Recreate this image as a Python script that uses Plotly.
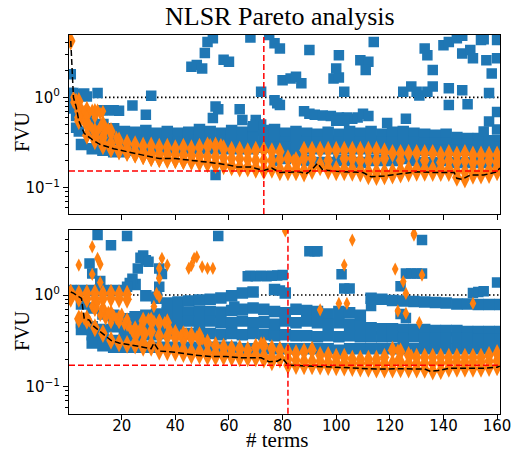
import plotly.graph_objects as go

# ---------------------------------------------------------------------------
# Data: FVU of candidate models against number of terms
# ---------------------------------------------------------------------------
X4 = list(range(1, 162, 4))   # term counts sampled for the square-marker fronts
X3 = list(range(1, 161, 3))   # term counts sampled for the diamond-marker fronts

# ---- upper panel ----
TOP_BLUE_ROWS = [
    [1.1, 1.05, 0.55, 0.5, 0.45, 0.42, 0.41, 0.43, 0.40, 0.42, 0.40, 0.41, 0.44, 0.42, 0.40, 0.43, 0.41,
     0.45, 0.43, 0.44, 0.40, 0.42, 0.40, 0.39, 0.41, 0.39, 0.42, 0.40, 0.42, 0.39, 0.41, 0.42, 0.40,
     0.39, 0.38, 0.39, 0.36, 0.35, 0.35, 0.33, 0.33],
    [0.95, 0.62, 0.42, 0.37, 0.34, 0.33, 0.33, 0.34, 0.33, 0.33, 0.32, 0.33, 0.34, 0.33, 0.33, 0.34, 0.33,
     0.35, 0.34, 0.33, 0.32, 0.33, 0.32, 0.32, 0.33, 0.32, 0.33, 0.32, 0.33, 0.32, 0.32, 0.33, 0.32,
     0.31, 0.31, 0.31, 0.30, 0.30, 0.29, 0.29, 0.28],
    [0.85, 0.30, 0.27, 0.26, 0.25, 0.25, 0.26, 0.27, 0.27, 0.27, 0.27, 0.27, 0.27, 0.27, 0.27, 0.27, 0.27,
     0.27, 0.28, 0.28, 0.28, 0.27, 0.27, 0.27, 0.27, 0.27, 0.27, 0.27, 0.27, 0.27, 0.27, 0.27, 0.27,
     0.26, 0.26, 0.26, 0.26, 0.26, 0.25, 0.25, 0.25],
    [None] * 19 + [0.20, 0.21, 0.22, 0.20, 0.19, 0.19, 0.20, 0.20, 0.19, 0.20, 0.20, 0.20, 0.21, 0.20,
                   0.19, 0.19, 0.20, 0.19, 0.19, 0.19, 0.19, 0.19],
]
TOP_BLUE_X = [1, 1, 2, 2, 3, 4, 6, 7, 11, 13, 15, 17, 19, 24, 29, 31, 2, 3, 3, 4,
              46, 48, 50, 51, 52, 54, 58, 60, 68, 72, 54, 55, 56, 64, 65, 70, 75, 77, 79, 77,
              78, 79, 80, 83, 85, 87, 90, 99, 101, 100, 101, 103, 109, 112, 111, 114, 119, 126, 125, 128,
              130, 131, 134, 136, 136, 133, 134, 140, 142, 145, 147, 147, 150, 151, 154, 155, 160, 156, 160, 158,
              157, 147, 142, 142, 149, 160, 157, 160, 155, 70, 88, 90, 92, 95, 98, 101, 104, 106, 108, 110,
              112, 100, 103, 55, 72, 69]
TOP_BLUE_Y = [1.8, 1.0, 0.92, 1.12, 1.05, 1.08, 1.1, 1.02, 1.12, 0.72, 0.72, 0.72, 0.71, 0.81, 0.64, 1.04,
              0.75, 0.62, 0.46, 0.42,
              2.18, 2.28, 2.09, 3.1, 4.1, 4.5, 2.6, 2.48, 4.6, 1.15, 0.59, 0.79, 0.74, 0.74, 0.56, 0.56, 4.9,
              3.96, 3.48, 0.93, 0.86, 0.82, 1.55, 1.62, 1.69, 1.43, 3.34, 1.62, 1.66, 2.09, 2.93, 1.15, 2.58,
              2.48, 2.0, 4.1, 0.52, 0.58, 1.15, 1.32, 1.15, 1.05, 1.15, 1.32, 2.0, 3.48, 2.93, 3.78, 4.1, 4.5,
              4.8, 3.06, 3.34, 2.7, 4.3, 4.4, 4.3, 2.58, 2.7, 1.84, 1.12, 1.2, 1.26, 0.82, 0.84, 0.69, 0.54,
              0.44, 0.42, 0.5, 0.7, 0.66, 0.64, 0.63, 0.62, 0.6, 0.6, 0.58, 0.6, 0.66, 0.62, 0.55, 0.55,
              0.138, 0.5, 0.48]

TOP_ORANGE_ROWS = [
    [None, 0.9, 0.72, 0.68, 0.5, 0.42, 0.33, 0.31, 0.3, 0.29,
     0.29, 0.28, 0.28, 0.27, 0.28, 0.27, 0.28, 0.29, 0.29, 0.27,
     0.26, 0.26, 0.25, 0.26, 0.26, 0.25, 0.25, None, None, 0.26,
     0.26, 0.26, 0.26, 0.26, 0.26, 0.26, 0.26, 0.26, 0.26, 0.25,
     0.24, 0.24, 0.24, 0.24, 0.24, 0.24, 0.23, 0.24, 0.23, 0.24,
     0.23, 0.23, 0.23, 0.23],
    [None, 0.6, 0.5, 0.42, 0.36, 0.31, 0.28, 0.27, 0.25, 0.245,
     0.24, 0.235, 0.235, 0.23, 0.23, 0.225, 0.225, 0.22, 0.22, 0.215,
     0.21, 0.21, 0.205, 0.2, 0.2, 0.2, 0.205, 0.21, 0.2, 0.21,
     0.21, None, 0.2, None, 0.21, 0.21, 0.2, 0.2, 0.2, 0.21,
     None, 0.2, None, None, 0.2, None, 0.19, 0.2, 0.19, 0.2,
     0.19, 0.19, 0.2, 0.19],
    [None, 0.7, 0.5, 0.36, 0.31, 0.28, 0.26, 0.25, 0.235, 0.225,
     0.215, 0.21, 0.21, 0.205, 0.2, 0.2, 0.195, 0.19, 0.185, 0.18,
     0.175, 0.17, 0.17, 0.165, 0.16, 0.165, 0.16, 0.16, 0.16, 0.155,
     0.165, 0.18, 0.165, 0.16, 0.16, 0.16, 0.155, 0.15, 0.15, 0.15,
     0.15, 0.155, 0.16, 0.16, 0.16, 0.16, 0.16, 0.16, 0.15, 0.15,
     0.15, 0.15, 0.155, 0.165],
    [4.2, 0.55, 0.38, 0.33, 0.29, 0.27, 0.255, 0.245, 0.235, 0.225,
     0.215, 0.21, 0.205, 0.205, 0.2, 0.195, 0.19, 0.185, 0.18, 0.175,
     0.17, 0.165, 0.165, 0.16, 0.155, 0.16, 0.15, 0.15, 0.15, 0.145,
     0.155, 0.17, 0.155, 0.15, 0.15, 0.148, 0.145, 0.135, 0.133, 0.135,
     0.138, 0.142, 0.145, 0.148, 0.148, 0.147, 0.147, 0.147, 0.13, 0.125,
     0.137, 0.138, 0.14, 0.15],
]
TOP_ORANGE_X = [2, 2, 3, 3, 5, 5, 6, 8, 9, 11, 12, 13, 6, 8, 9, 11, 12, 14, 15, 16, 18, 10, 7, 11,
                53, 55, 57, 84, 86]
TOP_ORANGE_Y = [1.0, 0.88, 0.95, 0.8, 0.75, 0.62, 0.7, 0.68, 0.72, 0.7, 0.66, 0.7, 0.55, 0.5, 0.45,
                0.42, 0.47, 0.42, 0.45, 0.38, 0.36, 0.6, 0.61, 0.72, 0.3, 0.3, 0.3, 0.2, 0.19]

TOP_BEST_X = [1, 2, 3, 4, 6, 9, 12, 17, 22, 28, 34, 40, 47, 53, 59, 63, 68, 72, 73, 76,
              79, 86, 89, 91, 93, 95, 100, 110, 113, 118, 124, 130, 137, 144, 145, 147, 150, 155, 160, 161]
TOP_BEST_Y = [4.2, 1.0, 0.79, 0.55, 0.40, 0.34, 0.30, 0.27, 0.25, 0.23, 0.21, 0.21, 0.20, 0.19, 0.18,
              0.17, 0.17, 0.157, 0.155, 0.165, 0.147, 0.15, 0.144, 0.16, 0.186, 0.157, 0.152, 0.147,
              0.132, 0.135, 0.142, 0.15, 0.147, 0.147, 0.127, 0.124, 0.138, 0.138, 0.15, 0.165]
TOP_PICK_TERMS, TOP_PICK_FVU = 73, 0.153

# ---- lower panel ----
BOT_BLUE_ROWS = [
    [1.12, 1.12, 1.12, 1.12, 1.12, 1.12, 1.3, 0.98, 0.92, 0.82,
     0.84, 0.86, 0.88, 0.9, 0.93, 0.98, 1.05, 1.08, None, 1.15,
     1.05, None, None, None, None, None, None, None, 0.92, 0.9,
     0.87, 0.86, 0.85, 0.84, 0.83, 0.82, 0.8, 0.8, 0.79, 0.79, 0.79],
    [None, 0.8, 0.72, 0.62, 0.6, 0.55, 0.58, 0.6, 0.62, 0.64,
     0.64, 0.65, 0.66, 0.66, 0.65, 0.68, 0.7, 0.72, 0.7, 0.66,
     0.64, 0.7, 0.68, 0.66, 0.62, 0.66, 0.64, 0.6, None, None] + [None] * 11,
    [None, 0.5, 0.45, 0.42, 0.45, 0.42, 0.5, 0.48, 0.46, 0.5,
     0.5, 0.52, 0.5, 0.52, 0.5, 0.5, 0.52, 0.5, 0.5, 0.48,
     0.52, 0.5, 0.52, 0.5, 0.48, 0.5, 0.48, 0.46, 0.44, 0.43,
     0.43, 0.42, 0.42, 0.42, 0.41, 0.41, 0.41, 0.4, 0.4, 0.4, 0.4],
    [None, 0.42, 0.37, 0.33, 0.32, 0.32, 0.36, 0.37, 0.37, 0.38,
     0.38, 0.38, 0.38, 0.38, 0.37, 0.38, 0.37, 0.38, 0.37, 0.36,
     0.37, 0.36, 0.36, 0.35, 0.36, 0.35, 0.36, 0.35, 0.35, 0.35,
     0.35, 0.34, 0.35, 0.34, 0.34, 0.34, 0.34, 0.34, 0.33, 0.33, 0.33],
    [None, None, 0.3, 0.28, 0.27, 0.27, 0.27, 0.27, 0.27, 0.27,
     0.27, 0.27, 0.27, 0.27, 0.27, 0.27, 0.26, 0.26, 0.26, 0.26,
     0.26, 0.26, 0.26, 0.26, 0.26, 0.25, 0.26, 0.26, 0.26, 0.26,
     0.26, 0.26, 0.26, 0.26, 0.26, 0.26, 0.26, 0.26, 0.26, 0.26, 0.26],
]
BOT_BLUE_X = [11, 16, 22, 56, 132, 90, 92, 93, 8, 9, 12, 26, 27, 28, 29, 30, 24, 23, 22, 34,
              35, 34, 33, 67, 68, 70, 72, 74, 76, 78, 80, 79, 102, 103, 105, 124, 126, 128, 130, 132,
              126, 160, 151, 153, 155, 62, 73, 77, 113, 124]
BOT_BLUE_Y = [4.5, 3.5, 4.4, 4.4, 3.98, 3.0, 3.0, 3.0, 2.2, 1.72, 1.42, 1.95, 2.55, 2.7, 2.4, 2.3,
              1.5, 1.35, 1.23, 1.95, 1.7, 1.23, 0.96, 1.6, 1.62, 1.6, 1.62, 1.6, 1.62, 1.63, 1.65,
              1.12, 1.68, 1.18, 1.18, 1.25, 1.72, 1.72, 1.72, 1.72, 0.56, 1.37, 1.05, 1.08, 1.1,
              0.75, 0.52, 0.47, 0.76, 0.62]

BOT_ORANGE_ROWS = [
    [1.04, 1.03, 1.04, 1.05, 1.03, 1.05, 1.03, 1.02, 0.38, 0.4,
     0.4, 0.36, 0.35, 0.34, 0.33, 0.34, 0.33, 0.3, 0.28, 0.27,
     0.26, 0.26, 0.25, 0.27, 0.28, 0.26, 0.25, 0.24, 0.23, 0.24,
     0.25, 0.22, 0.22, 0.21, 0.21, 0.2, 0.2, 0.2, 0.2, 0.21,
     0.25, 0.24, 0.22, 0.21, 0.21, 0.21, 0.21, 0.21, 0.21, 0.21,
     0.21, 0.21, 0.22, 0.23],
    [0.92, 0.92, 0.91, 0.92, 0.91, 0.92, 0.91, 0.9, 0.3, 0.3,
     0.29, 0.27, 0.26, 0.26, 0.25, 0.24, 0.24, 0.235, 0.23, 0.23,
     0.225, 0.22, 0.22, 0.22, 0.215, 0.21, 0.21, 0.2, 0.195, 0.19,
     0.19, 0.19, 0.185, 0.185, 0.18, 0.18, 0.18, 0.18, 0.18, 0.18,
     0.18, 0.185, 0.18, 0.18, 0.18, 0.18, 0.18, 0.185, 0.185, 0.185,
     0.185, 0.185, 0.19, 0.19],
    [1.05, 0.96, 0.55, 0.44, 0.38, 0.32, 0.3, 0.29, 0.285, 0.27,
     0.27, 0.245, 0.24, 0.237, 0.23, 0.222, 0.22, 0.215, 0.213, 0.213,
     0.21, 0.207, 0.207, 0.207, 0.2, 0.187, 0.2, 0.172, 0.17, 0.169,
     0.169, 0.168, 0.166, 0.165, 0.164, 0.162, 0.16, 0.159, 0.156, 0.156,
     0.156, 0.157, 0.156, 0.156, 0.155, 0.148, 0.15, 0.159, 0.159, 0.159,
     0.159, 0.159, 0.162, 0.165],
    [None, 0.55, 0.53, 0.75, 0.7, 0.62, 0.55, 0.5, 0.42, 0.52,
     0.52, 0.5, 0.5, 0.38, 0.37, 0.36, 0.36] + [None] * 37,
]
BOT_ORANGE_X = [2, 5, 6, 8, 9, 10, 11, 12, 13, 14, 15, 16, 17, 18, 19, 20, 21, 22, 23, 24,
                26, 27, 29, 30, 32, 34, 36, 38, 42, 44, 48, 50,
                4, 9, 11, 12, 9, 12, 35, 37, 34, 34, 33, 32, 34, 45, 46, 47, 48, 50,
                52, 54, 81, 106, 103, 104, 101, 94, 122, 125, 126, 123, 126, 131, 132, 129, 129, 151, 72, 121,
                123, 128, 123]
BOT_ORANGE_Y = [1.0, 0.58, 0.55, 0.52, 0.75, 0.68, 0.82, 0.6, 0.72, 0.55, 0.65, 0.5, 0.6, 0.55, 0.5,
                0.62, 0.48, 0.55, 0.44, 0.4, 0.38, 0.44, 0.38, 0.55, 0.52, 0.53, 0.5, 0.42, 0.36, 0.38,
                0.35, 0.33,
                2.12, 3.36, 2.51, 2.16, 1.68, 1.37, 2.51, 2.12, 1.95, 1.52, 1.04, 0.75, 0.95, 1.95, 2.1,
                2.51, 2.6, 2.03, 1.95, 1.95, 5.0, 3.97, 2.12, 0.81, 0.81, 0.69, 1.92, 1.4, 1.04, 0.67,
                0.63, 0.5, 1.65, 4.7, 4.5, 0.81, 0.3, 0.26, 0.25, 0.22, 0.2]

BOT_BEST_X = [1, 2, 4, 5, 6, 8, 9, 11, 13, 16, 19, 24, 28, 31, 32, 34, 40, 47, 53, 59,
              64, 72, 75, 78, 80, 82, 86, 93, 100, 108, 115, 125, 133, 135, 138, 142, 150, 155, 160, 161]
BOT_BEST_Y = [1.08, 1.05, 0.96, 0.92, 0.56, 0.53, 0.47, 0.42, 0.38, 0.32, 0.30, 0.285, 0.27, 0.26,
              0.30, 0.245, 0.237, 0.222, 0.213, 0.213, 0.207, 0.207, 0.187, 0.19, 0.204, 0.172, 0.17,
              0.169, 0.165, 0.162, 0.156, 0.157, 0.156, 0.148, 0.15, 0.159, 0.159, 0.159, 0.163, 0.168]
BOT_PICK_TERMS, BOT_PICK_FVU = 82, 0.172

X_TICKS = [20, 40, 60, 80, 100, 120, 140, 160]
Y_TICKS = [0.1, 1]
Y_TICK_TEXT = ["10<sup>\u22121</sup>", "10<sup>0</sup>"]
Y_MINOR = [0.06, 0.07, 0.08, 0.09, 0.2, 0.3, 0.4, 0.5, 0.6, 0.7, 0.8, 0.9, 2, 3, 4]

# ---------------------------------------------------------------------------
BLUE, ORANGE = "#1f77b4", "#ff7f0e"
SERIF = "Liberation Serif"
SANS = "DejaVu Sans"


def gather(grid, rows):
    xs, ys = [], []
    for row in rows:
        for x, y in zip(grid, row):
            if y is not None:
                xs.append(x)
                ys.append(y)
    return xs, ys


def markers(xs, ys, xa, ya, symbol, size, color):
    return go.Scatter(x=xs, y=ys, xaxis=xa, yaxis=ya, mode="markers", showlegend=False,
                      hoverinfo="skip",
                      marker=dict(symbol=symbol, size=size, color=color, line=dict(width=0)))


fig = go.Figure()

panels = [
    ("x", "y", TOP_BLUE_ROWS, TOP_BLUE_X, TOP_BLUE_Y, TOP_ORANGE_ROWS, TOP_ORANGE_X, TOP_ORANGE_Y,
     TOP_BEST_X, TOP_BEST_Y),
    ("x2", "y2", BOT_BLUE_ROWS, BOT_BLUE_X, BOT_BLUE_Y, BOT_ORANGE_ROWS, BOT_ORANGE_X, BOT_ORANGE_Y,
     BOT_BEST_X, BOT_BEST_Y),
]
for xa, ya, brows, bx, by, orows, ox, oy, bestx, besty in panels:
    xs, ys = gather(X4, brows)
    fig.add_trace(markers(xs, ys, xa, ya, "square", 11.5, BLUE))
    fig.add_trace(markers(bx, by, xa, ya, "square", 10.5, BLUE))
    xs, ys = gather(X3, orows)
    fig.add_trace(markers(xs, ys, xa, ya, "diamond-tall", 13.5, ORANGE))
    fig.add_trace(markers(ox, oy, xa, ya, "diamond-tall", 9.5, ORANGE))
    fig.add_trace(go.Scatter(x=bestx, y=besty, xaxis=xa, yaxis=ya, mode="lines", showlegend=False,
                             line=dict(color="black", width=1.5, dash="6px,3px")))

shapes = []
for xa, ya, pick_x, pick_y in [("x", "y", TOP_PICK_TERMS, TOP_PICK_FVU),
                               ("x2", "y2", BOT_PICK_TERMS, BOT_PICK_FVU)]:
    shapes.append(dict(type="line", xref=f"{xa} domain", yref=ya, x0=0, x1=1, y0=1, y1=1,
                       layer="below", line=dict(color="black", width=1.6, dash="1.5px,2.5px")))
    shapes.append(dict(type="line", xref=f"{xa} domain", yref=ya, x0=0, x1=1, y0=pick_y, y1=pick_y,
                       layer="above", line=dict(color="red", width=1.5, dash="6px,3px")))
    shapes.append(dict(type="line", xref=xa, yref=f"{ya} domain", x0=pick_x, x1=pick_x, y0=0, y1=1,
                       layer="above", line=dict(color="red", width=1.5, dash="6px,3px")))

W, H = 521, 453
xdom = [69 / W, 500.3 / W]
axis_common = dict(showline=True, linecolor="black", linewidth=1, mirror=True, showgrid=False,
                   zeroline=False, ticks="outside", ticklen=5, tickwidth=1, tickcolor="black",
                   automargin=False, tickfont=dict(family=SANS, size=15, color="black"))
xcommon = dict(axis_common, range=[0.34, 161.2], tickmode="array", tickvals=X_TICKS)
ycommon = dict(axis_common, type="log", tickmode="array", tickvals=Y_TICKS, ticktext=Y_TICK_TEXT,
               minor=dict(tickmode="array", tickvals=Y_MINOR, ticks="outside", ticklen=3,
                          tickcolor="black", tickwidth=1, showgrid=False))

fig.update_layout(
    width=W, height=H, autosize=False, margin=dict(l=0, r=0, t=0, b=0, autoexpand=False),
    paper_bgcolor="white", plot_bgcolor="white",
    xaxis=dict(xcommon, domain=xdom, anchor="y", showticklabels=False),
    yaxis=dict(ycommon, domain=[1 - 214 / H, 1 - 34.7 / H], anchor="x", range=[-1.291, 0.693]),
    xaxis2=dict(xcommon, domain=xdom, anchor="y2", ticklabelstandoff=-7),
    yaxis2=dict(ycommon, domain=[1 - 413.7 / H, 1 - 230 / H], anchor="x2", range=[-1.294, 0.709]),
    shapes=shapes,
    annotations=[
        dict(text="NLSR Pareto analysis", x=280 / W, y=1 - 17 / H, xref="paper", yref="paper",
             showarrow=False, xanchor="center", yanchor="middle",
             font=dict(family=SERIF, size=26, color="black")),
        dict(text="FVU", x=22 / W, y=1 - 132 / H, xref="paper", yref="paper", textangle=-90,
             showarrow=False, xanchor="center", yanchor="middle",
             font=dict(family=SERIF, size=20, color="black")),
        dict(text="FVU", x=22 / W, y=1 - 331 / H, xref="paper", yref="paper", textangle=-90,
             showarrow=False, xanchor="center", yanchor="middle",
             font=dict(family=SERIF, size=20, color="black")),
        dict(text="# terms", x=277 / W, y=0, xref="paper", yref="paper",
             showarrow=False, xanchor="center", yanchor="bottom", borderpad=0,
             font=dict(family=SERIF, size=21, color="black")),
    ],
)

fig.write_html("out.html", config={"responsive": False, "displayModeBar": False})
